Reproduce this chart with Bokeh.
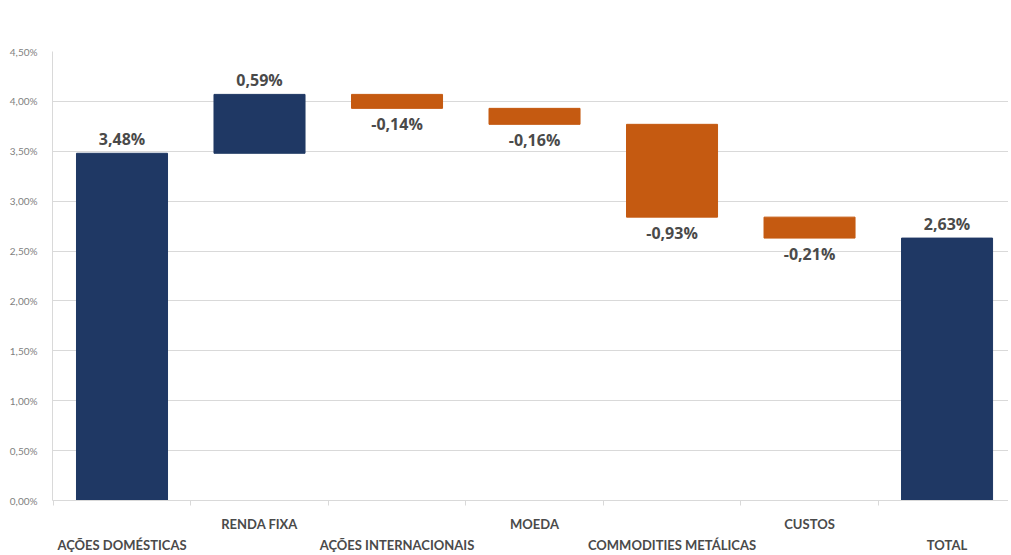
from bokeh.plotting import figure
from bokeh.models import Range1d, FixedTicker, LinearAxis, CustomJSTickFormatter, ColumnDataSource
from bokeh.core.properties import value
from bokeh.embed import file_html
from bokeh.resources import INLINE

categories = ["AÇÕES DOMÉSTICAS", "RENDA FIXA", "AÇÕES INTERNACIONAIS", "MOEDA",
              "COMMODITIES METÁLICAS", "CUSTOS", "TOTAL"]
values = [3.48, 0.59, -0.14, -0.16, -0.93, -0.21, 2.63]
is_total = [True, False, False, False, False, False, True]
labels = ["3,48%", "0,59%", "-0,14%", "-0,16%", "-0,93%", "-0,21%", "2,63%"]
y_ticks = [0, 0.5, 1.0, 1.5, 2.0, 2.5, 3.0, 3.5, 4.0, 4.5]

NAVY = "#1f3864"
ORANGE = "#c55a11"

xs, bottoms, tops, colors = [], [], [], []
running = 0.0
for i, (v, t) in enumerate(zip(values, is_total)):
    xs.append(i)
    if t:
        b, tp = 0.0, v
        running = v
    else:
        b, tp = running, running + v
        running = running + v
    bottoms.append(min(b, tp))
    tops.append(max(b, tp))
    colors.append(NAVY if v >= 0 else ORANGE)

src = ColumnDataSource(dict(x=xs, bottom=bottoms, top=tops, color=colors))

p = figure(width=1008, height=555, output_backend="svg", toolbar_location=None,
           x_range=Range1d(-0.5055, 6.447), y_range=Range1d(0, 4.5),
           x_axis_location=None, y_axis_location=None,
           min_border_left=52, min_border_right=0, min_border_top=51, min_border_bottom=46)
p.outline_line_color = None
p.background_fill_color = "white"
p.border_fill_color = "white"

p.vbar(x="x", bottom="bottom", top="top", width=0.662, color="color", source=src)

# data labels
pos_x, pos_y, pos_t, neg_x, neg_y, neg_t = [], [], [], [], [], []
for i, v in enumerate(values):
    if v >= 0:
        pos_x.append(i); pos_y.append(tops[i]); pos_t.append(labels[i])
    else:
        neg_x.append(i); neg_y.append(bottoms[i]); neg_t.append(labels[i])
p.text(x=pos_x, y=pos_y, text=pos_t, text_align="center", text_baseline="bottom",
       y_offset=-3, text_font=value("Open Sans"), text_font_style="bold",
       text_font_size="16px", text_color="#4a4a4a")
p.text(x=neg_x, y=neg_y, text=neg_t, text_align="center", text_baseline="top",
       y_offset=5, text_font=value("Open Sans"), text_font_style="bold",
       text_font_size="16px", text_color="#4a4a4a")

# y axis
yax = LinearAxis(ticker=FixedTicker(ticks=y_ticks, minor_ticks=[]))
yax.formatter = CustomJSTickFormatter(code="return tick.toFixed(2).replace('.', ',') + '%';")
yax.axis_line_color = "#d9d9d9"
yax.major_tick_line_color = None
yax.minor_tick_line_color = None
yax.major_label_text_font = "Lato"
yax.major_label_text_font_size = "10px"
yax.major_label_text_color = "#7f7f7f"
yax.major_label_standoff = 9
p.add_layout(yax, "left")

# x axes (staggered labels)
upper = [1, 3, 5]
lower = [0, 2, 4, 6]
minor = [i - 0.5 for i in range(8)]
xa1 = LinearAxis(ticker=FixedTicker(ticks=upper, minor_ticks=minor),
                 major_label_overrides={i: categories[i] for i in upper})
xa1.axis_line_color = "#d9d9d9"
xa1.major_tick_line_color = None
xa1.minor_tick_line_color = "#d9d9d9"
xa1.minor_tick_out = 5
xa1.minor_tick_in = 0
xa1.major_tick_out = 0
xa1.major_tick_in = 0
xa1.major_label_standoff = 10
xa1.major_label_text_font = "Lato"
xa1.major_label_text_font_style = "bold"
xa1.major_label_text_font_size = "13px"
xa1.major_label_text_color = "#4a4a4a"
p.add_layout(xa1, "below")

xa2 = LinearAxis(ticker=FixedTicker(ticks=lower, minor_ticks=[]),
                 major_label_overrides={i: categories[i] for i in lower})
xa2.axis_line_color = None
xa2.major_tick_line_color = None
xa2.minor_tick_line_color = None
xa2.major_tick_out = 0
xa2.major_tick_in = 0
xa2.major_label_standoff = 2
xa2.major_label_text_font = "Lato"
xa2.major_label_text_font_style = "bold"
xa2.major_label_text_font_size = "13px"
xa2.major_label_text_color = "#4a4a4a"
p.add_layout(xa2, "below")

p.xgrid.visible = False
p.ygrid.ticker = FixedTicker(ticks=y_ticks)
p.ygrid.grid_line_color = "#d9d9d9"

open("out.html", "w").write(file_html(p, INLINE))
